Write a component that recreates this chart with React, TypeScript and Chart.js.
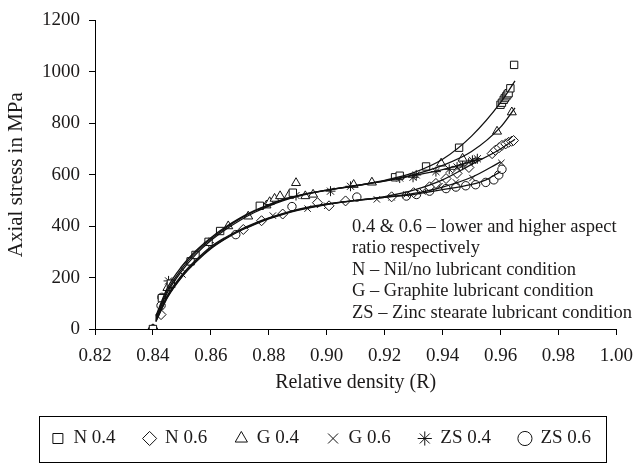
import React, { useEffect, useRef } from "react";
import { Chart, registerables } from "chart.js";

Chart.register(...registerables);

const FONT = "'Liberation Serif', 'Times New Roman', serif";
const INK = "#1c1a1a";

// Axis ticks
const xTicks = [0.82, 0.84, 0.86, 0.88, 0.9, 0.92, 0.94, 0.96, 0.98, 1.0];
const yTicks = [0, 200, 400, 600, 800, 1000, 1200];

// Measured points (relative density, axial stress MPa)
const n04X = [0.840, 0.8431, 0.8462, 0.853, 0.8547, 0.8592, 0.8632, 0.8769, 0.8883, 0.9236, 0.9252, 0.9343, 0.9457, 0.9600, 0.9605, 0.9611, 0.9615, 0.9620, 0.9624, 0.9628, 0.9634, 0.9647];
const n04Y = [0, 120, 176, 263, 288, 339, 381, 479, 530, 590, 596, 632, 705, 872, 880, 891, 898, 905, 912, 917, 936, 1027];

const n06X = [0.840, 0.8428, 0.8513, 0.8712, 0.8775, 0.8848, 0.8968, 0.9008, 0.9065, 0.9224, 0.9300, 0.9355, 0.9377, 0.9412, 0.9450, 0.9491, 0.9571, 0.9582, 0.9595, 0.9605, 0.9618, 0.9628, 0.9638, 0.9645];
const n06Y = [0, 56, 240, 387, 421, 447, 491, 479, 498, 514, 530, 553, 566, 585, 605, 628, 682, 695, 705, 714, 720, 726, 730, 733];

const g04X = [0.840, 0.8450, 0.8660, 0.8729, 0.8792, 0.8803, 0.8820, 0.8839, 0.8869, 0.8894, 0.8926, 0.8953, 0.9093, 0.9156, 0.9395, 0.9469, 0.9588, 0.9639];
const g04Y = [0, 160, 400, 438, 481, 494, 507, 517, 519, 568, 517, 523, 561, 570, 644, 663, 768, 843];

const g06X = [0.840, 0.8502, 0.8814, 0.8934, 0.9002, 0.9173, 0.9224, 0.9275, 0.9330, 0.9389, 0.9446, 0.9503, 0.9603];
const g06Y = [0, 212, 441, 468, 479, 504, 512, 523, 535, 555, 570, 587, 646];

const zs04X = [0.840, 0.8454, 0.8465, 0.8593, 0.8894, 0.9013, 0.9082, 0.9252, 0.9298, 0.9309, 0.9377, 0.9423, 0.9450, 0.9469, 0.9490, 0.9503, 0.9520];
const zs04Y = [0, 187, 176, 336, 519, 536, 555, 587, 590, 599, 612, 621, 630, 637, 645, 656, 662];

const zs06X = [0.840, 0.8428, 0.8431, 0.8686, 0.8880, 0.9104, 0.9275, 0.9310, 0.9355, 0.9412, 0.9446, 0.9480, 0.9514, 0.9549, 0.9577, 0.9594, 0.9605];
const zs06Y = [0, 91, 123, 367, 476, 513, 517, 523, 536, 546, 552, 557, 561, 570, 580, 599, 621];

// Trend lines
const fitUpperX = [0.841, 0.845, 0.85, 0.855, 0.86, 0.865, 0.87, 0.875, 0.88, 0.885, 0.89, 0.90, 0.91, 0.92, 0.93, 0.94, 0.95, 0.96, 0.965];
const fitN04Y = [45, 150, 235, 300, 350, 392, 428, 458, 482, 502, 518, 540, 558, 578, 608, 660, 750, 880, 965];
const fitG04Y = [40, 142, 226, 292, 344, 386, 422, 453, 478, 499, 516, 539, 557, 576, 600, 636, 690, 785, 860];
const fitZS04X = [0.841, 0.845, 0.85, 0.855, 0.86, 0.865, 0.87, 0.875, 0.88, 0.885, 0.89, 0.90, 0.91, 0.92, 0.93, 0.94, 0.95, 0.953];
const fitZS04Y = [50, 160, 244, 306, 355, 396, 431, 460, 484, 504, 519, 540, 557, 575, 597, 620, 652, 664];

const fitLowerX = [0.841, 0.845, 0.85, 0.855, 0.86, 0.865, 0.87, 0.875, 0.88, 0.885, 0.89, 0.90, 0.91, 0.92, 0.93, 0.94, 0.95, 0.96, 0.965];
const fitN06Y = [30, 125, 205, 265, 315, 352, 383, 408, 430, 448, 463, 485, 500, 515, 540, 580, 640, 700, 738];
const fitG06X = [0.841, 0.845, 0.85, 0.855, 0.86, 0.865, 0.87, 0.875, 0.88, 0.885, 0.89, 0.90, 0.91, 0.92, 0.93, 0.94, 0.95, 0.96];
const fitG06Y = [28, 122, 202, 262, 312, 350, 381, 406, 428, 446, 461, 484, 499, 512, 527, 552, 590, 650];
const fitZS06X = [0.841, 0.845, 0.85, 0.855, 0.86, 0.865, 0.87, 0.875, 0.88, 0.885, 0.89, 0.90, 0.91, 0.92, 0.93, 0.935, 0.94, 0.945, 0.95, 0.955, 0.96];
const fitZS06Y = [35, 130, 210, 270, 320, 356, 386, 411, 432, 450, 465, 486, 500, 512, 523, 532, 542, 551, 562, 580, 612];

const seriesLabels = ["N 0.4", "N 0.6", "G 0.4", "G 0.6", "ZS 0.4", "ZS 0.6"];
const pointStyles = ["rect", "rectRot", "triangle", "crossRot", "star", "circle"];
const pointSizes = [5.2, 5, 5.2, 4.5, 5, 4.2];

const noteLines = [
  "0.4 & 0.6 – lower and higher aspect",
  "ratio respectively",
  "N – Nil/no lubricant condition",
  "G – Graphite lubricant condition",
  "ZS – Zinc stearate lubricant condition",
];

const zip = (xs: number[], ys: number[]) => xs.map((x, i) => ({ x, y: ys[i] }));

const extras = {
  id: "extras",
  afterDraw(chart: any) {
    const ctx = chart.ctx;
    ctx.save();
    // note text
    ctx.font = `18.5px ${FONT}`;
    ctx.fillStyle = INK;
    ctx.textAlign = "left";
    ctx.textBaseline = "middle";
    noteLines.forEach((t, i) => ctx.fillText(t, 352, 227 + i * 21.5));
    // legend frame
    const lg = chart.legend;
    const hb = lg.legendHitBoxes || [];
    if (hb.length) {
      const minL = Math.min(...hb.map((h: any) => h.left));
      const maxR = Math.max(...hb.map((h: any) => h.left + h.width));
      const cy = hb[0].top + hb[0].height / 2;
      ctx.strokeStyle = "#000";
      ctx.lineWidth = 1;
      const l = Math.round(minL - 13);
      const r = Math.round(maxR + 15);
      ctx.strokeRect(l + 0.5, Math.round(cy - 23) + 0.5, r - l, 46);
    }
    ctx.restore();
  },
};

export default function App() {
  const ref = useRef<HTMLCanvasElement>(null);
  useEffect(() => {
    if (!ref.current) return;
    const pointSets = [zip(n04X, n04Y), zip(n06X, n06Y), zip(g04X, g04Y), zip(g06X, g06Y), zip(zs04X, zs04Y), zip(zs06X, zs06Y)];
    const fitSets = [
      zip(fitUpperX, fitN04Y),
      zip(fitLowerX, fitN06Y),
      zip(fitUpperX, fitG04Y),
      zip(fitG06X, fitG06Y),
      zip(fitZS04X, fitZS04Y),
      zip(fitZS06X, fitZS06Y),
    ];
    const datasets: any[] = [];
    pointSets.forEach((d, i) => {
      datasets.push({
        type: "scatter",
        label: seriesLabels[i],
        data: d,
        pointStyle: pointStyles[i],
        pointRadius: pointSizes[i],
        pointBorderWidth: 1,
        borderWidth: 1,
        borderColor: "#111",
        backgroundColor: "#fff",
        showLine: false,
        order: 2,
      });
    });
    fitSets.forEach((d, i) => {
      datasets.push({
        type: "line",
        label: "fit " + seriesLabels[i],
        data: d,
        borderColor: "#111",
        borderWidth: 1.3,
        pointRadius: 0,
        fill: false,
        cubicInterpolationMode: "monotone",
        order: 1,
      });
    });

    const chart = new Chart(ref.current, {
      type: "scatter",
      data: { datasets },
      options: {
        animation: false,
        responsive: false,
        layout: { padding: { left: 0, right: 0, top: 14, bottom: 8 } },
        plugins: {
          tooltip: { enabled: false },
          legend: {
            position: "bottom",
            labels: {
              usePointStyle: true,
              boxWidth: 12,
              boxHeight: 10,
              padding: 28,
              color: INK,
              font: { family: FONT, size: 19 },
              filter: (item: any) => item.datasetIndex < 6,
            },
          },
        },
        scales: {
          x: {
            type: "linear",
            min: 0.82,
            max: 1.0,
            afterBuildTicks: (s: any) => {
              s.ticks = xTicks.map((v) => ({ value: v }));
            },
            afterFit: (s: any) => {
              s.height = 72;
            },
            ticks: {
              color: INK,
              font: { family: FONT, size: 19 },
              padding: 10,
              maxRotation: 0,
              autoSkip: false,
              callback: (v: any) => Number(v).toFixed(2),
            },
            grid: { drawOnChartArea: false, drawTicks: true, tickLength: 6, color: "#000", lineWidth: 1 },
            border: { display: true, color: "#000", width: 1 },
            title: {
              display: true,
              text: "Relative density (R)",
              color: INK,
              font: { family: FONT, size: 20 },
              padding: { top: 0, bottom: 6 },
            },
          },
          y: {
            type: "linear",
            min: 0,
            max: 1200,
            afterBuildTicks: (s: any) => {
              s.ticks = yTicks.map((v) => ({ value: v }));
            },
            afterFit: (s: any) => {
              s.width = 95;
            },
            ticks: {
              color: INK,
              font: { family: FONT, size: 19 },
              padding: 9,
              autoSkip: false,
              callback: (v: any) => String(v),
            },
            grid: { drawOnChartArea: false, drawTicks: true, tickLength: 6, color: "#000", lineWidth: 1 },
            border: { display: true, color: "#000", width: 1 },
            title: {
              display: true,
              text: "Axial stress in MPa",
              color: INK,
              font: { family: FONT, size: 21 },
              padding: { top: 3.4, bottom: 0 },
            },
          },
          rightGap: {
            type: "linear",
            position: "right",
            display: true,
            afterFit: (s: any) => {
              s.width = 21;
            },
            ticks: { display: false },
            grid: { display: false, drawTicks: false },
            border: { display: false },
          },
        },
      },
      plugins: [extras],
    });
    return () => chart.destroy();
  }, []);
  return (
    <div style={{ position: "absolute", left: 0, top: 0, width: 643, height: 466, background: "#fff" }}>
      <canvas ref={ref} width={643} height={466} style={{ display: "block" }} />
    </div>
  );
}
